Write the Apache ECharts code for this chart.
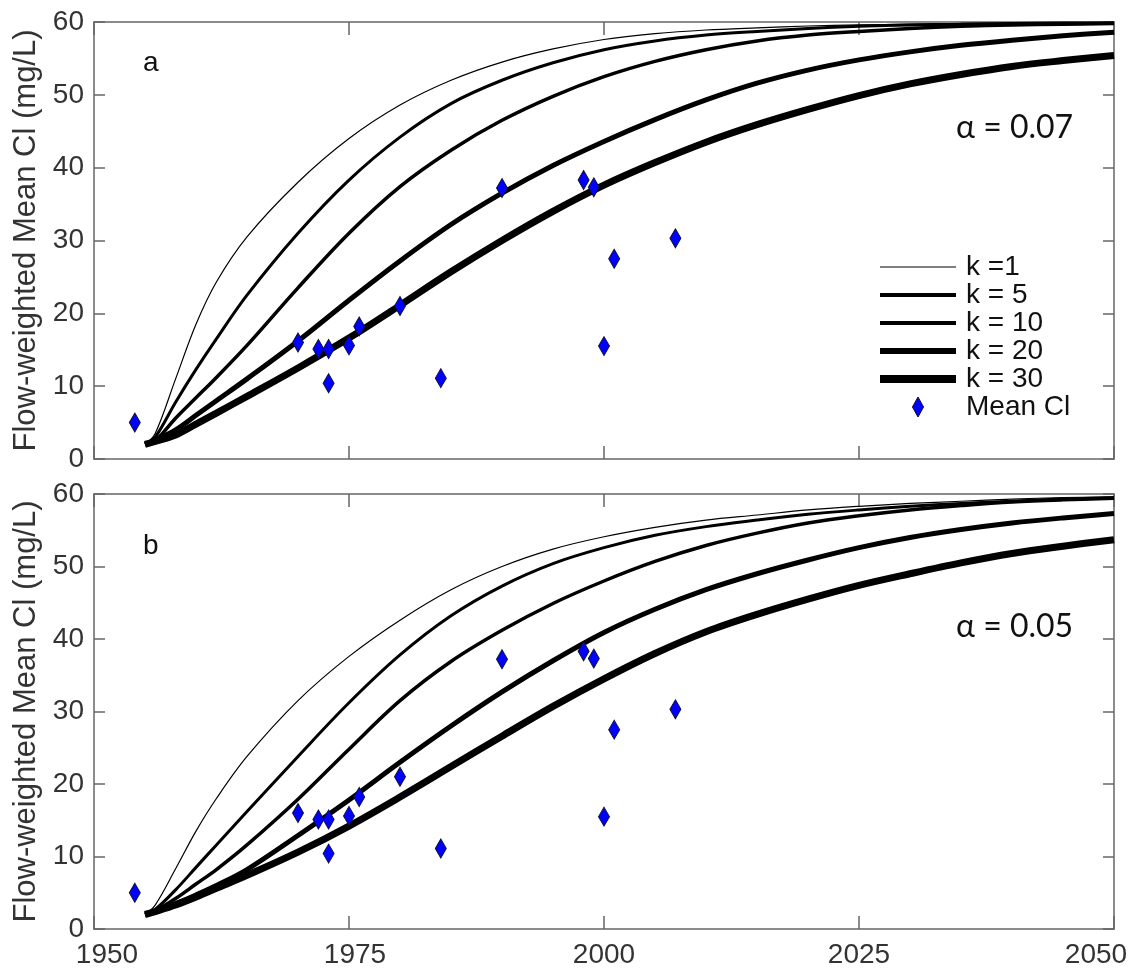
<!DOCTYPE html>
<html><head><meta charset="utf-8">
<script src="https://cdn.jsdelivr.net/npm/echarts@6/dist/echarts.min.js"></script>
<style>html,body{margin:0;padding:0;background:#fff}#c{width:1139px;height:974px}</style>
</head><body><div id="c"></div>
<script>
// ---- data ----
const curveYears = [1955,1956,1958,1960,1962,1965,1970,1975,1980,1985,1990,1995,2000,2005,2010,2015,2020,2025,2030,2035,2040,2045,2050];
// panel a (alpha = 0.07)
const a_k1  = [2.0,3.5,11.0,18.5,24.3,30.5,38.0,44.0,48.6,52.0,54.5,56.3,57.6,58.4,58.9,59.2,59.45,59.6,59.7,59.8,59.85,59.9,59.9];
const a_k5  = [2.0,3.0,7.8,12.3,16.5,22.5,31.0,38.3,44.2,48.8,52.0,54.4,56.2,57.4,58.2,58.7,59.1,59.4,59.6,59.7,59.8,59.85,59.9];
const a_k10 = [2.0,2.5,5.6,8.4,11.2,15.6,23.5,31.0,37.4,42.4,46.5,49.8,52.5,54.6,56.2,57.4,58.2,58.7,59.1,59.4,59.6,59.7,59.8];
const a_k20 = [2.0,2.6,4.0,6.0,8.0,11.0,16.2,21.8,27.2,32.2,36.5,40.3,43.6,46.6,49.3,51.6,53.4,54.8,55.9,56.8,57.5,58.1,58.6];
const a_k30 = [2.0,2.4,3.3,4.8,6.3,8.6,12.5,16.6,21.1,25.7,30.0,34.0,37.6,40.7,43.5,45.9,48.0,49.9,51.5,52.8,53.9,54.7,55.4];
// panel b (alpha = 0.05)
const b_k1  = [2.0,3.3,8.3,13.5,18.0,23.8,31.5,37.6,42.6,46.8,50.0,52.4,54.1,55.4,56.4,57.1,57.8,58.3,58.7,59.0,59.3,59.5,59.6];
const b_k5  = [2.0,2.7,5.4,8.5,11.6,16.2,23.8,31.2,37.8,43.2,47.3,50.4,52.6,54.3,55.5,56.4,57.2,57.8,58.3,58.7,59.0,59.3,59.5];
const b_k10 = [2.0,2.5,4.2,6.2,8.2,11.6,17.9,24.8,31.5,36.9,41.2,44.9,48.0,50.7,52.9,54.6,56.0,57.0,57.8,58.4,58.9,59.2,59.4];
const b_k20 = [2.0,2.4,3.5,4.7,6.0,8.2,12.9,17.8,23.0,28.0,32.7,37.0,40.9,44.1,46.8,49.0,50.9,52.6,54.0,55.1,56.0,56.7,57.3];
const b_k30 = [2.0,2.4,3.3,4.4,5.6,7.4,10.6,14.2,18.2,22.4,26.6,30.7,34.5,38.0,41.0,43.4,45.5,47.4,49.0,50.5,51.8,52.8,53.7];
// observed mean Cl
const obsYears  = [1954,1970,1972,1973,1973,1975,1976,1980,1984,1990,1998,1999,2000,2001,2007];
const obsValues = [5.0,16.0,15.1,15.1,10.4,15.6,18.2,21.0,11.1,37.2,38.3,37.3,15.5,27.5,30.3];
const seriesNames = ['k =1','k = 5','k = 10','k = 20','k = 30'];
const xTicks = [1950,1975,2000,2025,2050];
const yTicks = [0,10,20,30,40,50,60];

// ---- styling ----
const FONT = '"Liberation Sans", Arial, sans-serif';
const AX = '#666';
const LBL = {color:'#333',fontSize:28,fontFamily:FONT};
const lineWidths = [1.2,3,3.5,5,7];
const legendWidths = [1.5,4,4,6,8];

function xAx(gi, pos, lab){
  return {type:'value', gridIndex:gi, position:pos, min:xTicks[0], max:xTicks[xTicks.length-1], interval:xTicks[1]-xTicks[0],
    axisLine:{show:true,onZero:false,lineStyle:{color:AX,width:1.5}},
    axisTick:{show:true,inside:true,length:13,lineStyle:{color:AX,width:1.5}},
    axisLabel:{show:lab,color:'#333',fontSize:28,fontFamily:FONT,margin:12,
      formatter:v=> v===xTicks[0] ? '{f|'+v+'}' : v===xTicks[xTicks.length-1] ? '{l|'+v+'}' : v===xTicks[1] ? '{s|'+v+'}' : '{m|'+v+'}',
      rich:{f:Object.assign({padding:[0,0,0,26]},LBL), l:Object.assign({padding:[0,36,0,0]},LBL),
            s:Object.assign({padding:[0,0,0,12]},LBL), m:Object.assign({},LBL)}},
    splitLine:{show:false}};
}
function yAx(gi, pos, lab){
  const o = {type:'value', gridIndex:gi, position:pos, min:yTicks[0], max:yTicks[yTicks.length-1], interval:yTicks[1]-yTicks[0],
    axisLine:{show:true,onZero:false,lineStyle:{color:AX,width:1.5}},
    axisTick:{show:true,inside:true,length:11,lineStyle:{color:AX,width:1.5}},
    axisLabel:{show:lab,color:'#333',fontSize:28,fontFamily:FONT,margin:10,formatter:v=>String(v)},
    splitLine:{show:false}};
  if(lab){
    o.name='Flow-weighted Mean Cl (mg/L)'; o.nameLocation='middle'; o.nameGap=52;
    o.nameTextStyle={fontSize:31,color:'#333',fontFamily:FONT};
  }
  return o;
}
const panels = [[a_k1,a_k5,a_k10,a_k20,a_k30],[b_k1,b_k5,b_k10,b_k20,b_k30]];
const series = [];
panels.forEach((arrs,gi)=>{
  arrs.forEach((arr,i)=>{
    series.push({type:'line', name:seriesNames[i], xAxisIndex:gi*2, yAxisIndex:gi*2,
      data:curveYears.map((y,j)=>[y,arr[j]]), smooth:0.35, symbol:'none', silent:true,
      itemStyle:{color:'#000'},
      lineStyle:{color:'#000',width:lineWidths[i]}, z:2});
  });
  series.push({type:'scatter', name:'Mean Cl', xAxisIndex:gi*2, yAxisIndex:gi*2,
    data:obsYears.map((y,j)=>[y,obsValues[j]]), symbol:'diamond', symbolSize:[11,19],
    itemStyle:{color:'#0000ff',borderColor:'#101030',borderWidth:1,opacity:1}, z:5});
});

const chart = echarts.init(document.getElementById('c'));
chart.setOption({
  animation:false,
  backgroundColor:'#fff',
  grid:[{left:94,top:22,width:1020,height:437,outerBoundsMode:'none'},
        {left:94,top:494,width:1020,height:435,outerBoundsMode:'none'}],
  xAxis:[xAx(0,'bottom',false),xAx(0,'top',false),xAx(1,'bottom',true),xAx(1,'top',false)],
  yAxis:[yAx(0,'left',true),yAx(0,'right',false),yAx(1,'left',true),yAx(1,'right',false)],
  legend:{orient:'vertical', left:876, top:253, padding:0, itemWidth:76, itemHeight:20, itemGap:0,
    selectedMode:false,
    textStyle:{fontSize:28,color:'#111',fontFamily:FONT,padding:[0,0,0,5]},
    data:seriesNames.map((n,i)=>({name:n,itemStyle:{opacity:0},lineStyle:{width:legendWidths[i],color:i===0?'#555':'#000'}}))
      .concat([{name:'Mean Cl',icon:'path://M5,0L10,9L5,18L0,9Z',itemStyle:{color:'#0000ff',borderColor:'#101030',borderWidth:1,opacity:1}}])},
  graphic:[
    {type:'text',left:143,top:49,style:{text:'a',fontSize:28,fontFamily:FONT,fill:'#111'}},
    {type:'text',left:143,top:532,style:{text:'b',fontSize:28,fontFamily:FONT,fill:'#111'}},
    {type:'text',left:956,top:112,style:{text:'α = 0.07',fontSize:32,fontFamily:'Lato, "Open Sans", sans-serif',fill:'#111'}},
    {type:'text',left:956,top:611,style:{text:'α = 0.05',fontSize:32,fontFamily:'Lato, "Open Sans", sans-serif',fill:'#111'}}
  ],
  series:series
});
</script></body></html>
